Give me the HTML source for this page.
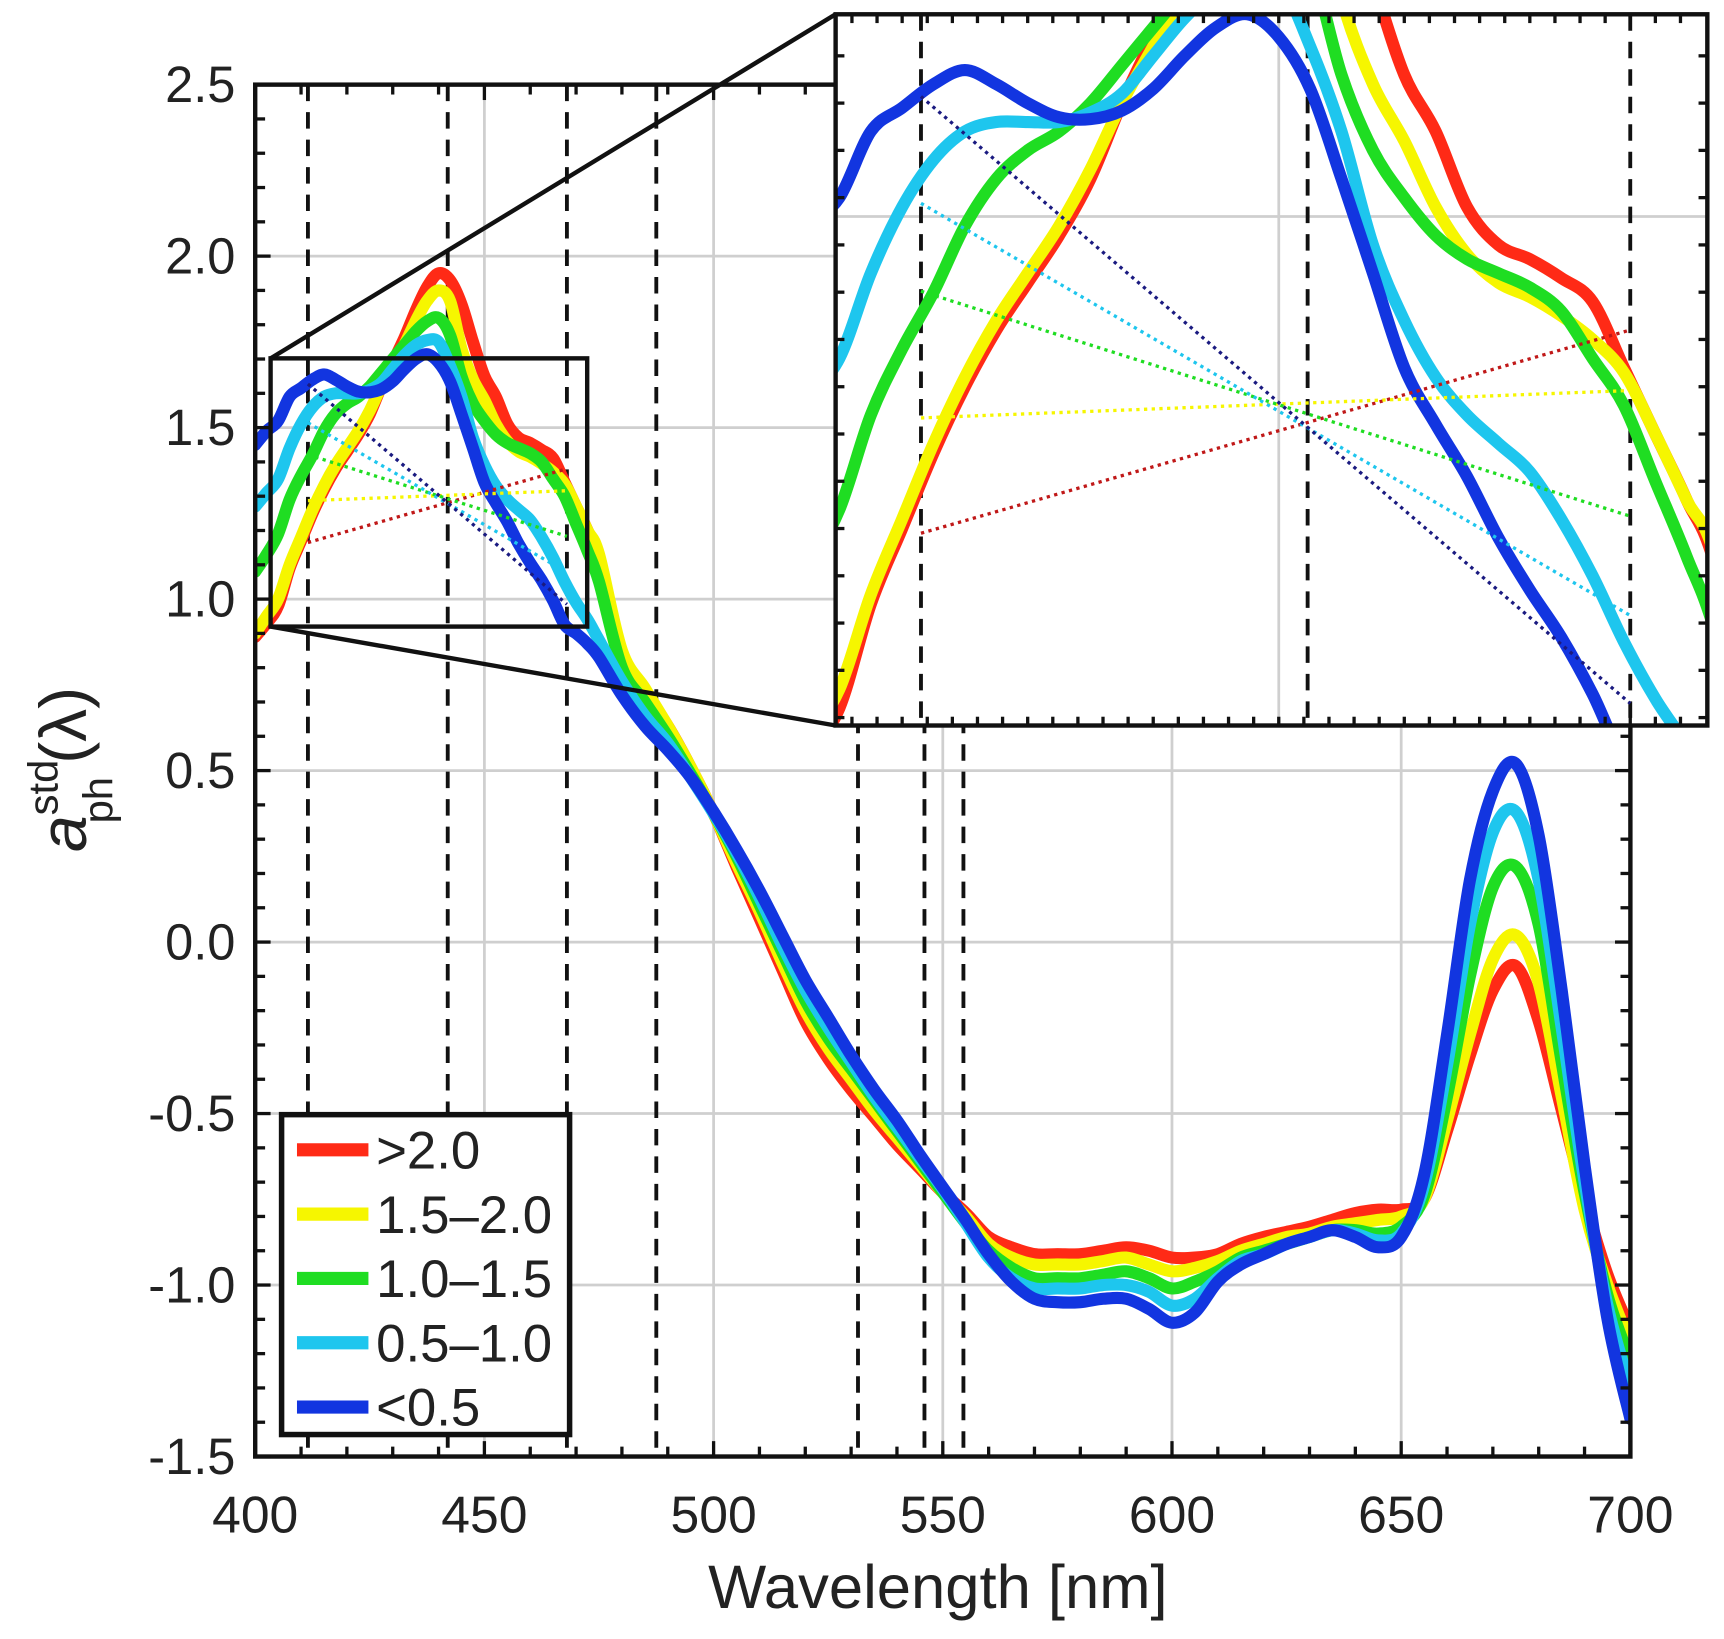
<!DOCTYPE html>
<html><head><meta charset="utf-8"><style>
html,body{margin:0;padding:0;background:#fff;overflow:hidden;width:1724px;height:1639px}
svg{display:block}
text{font-family:"Liberation Sans",sans-serif;fill:#222}
</style></head><body>
<svg id="chart" width="1724" height="1639" viewBox="0 0 1568 1491" xmlns="http://www.w3.org/2000/svg">
<defs>
<clipPath id="mainClip"><rect x="232" y="77" width="1251" height="1248"/></clipPath>
<clipPath id="insetClip"><rect x="760" y="13" width="793" height="647"/></clipPath>
</defs>
<g id="mainGrid"></g>
<g id="mainDashed"></g>
<g id="mainSeries" clip-path="url(#mainClip)"></g>
<rect x="232" y="77" width="1251" height="1248" fill="none" stroke="#111" stroke-width="4"/>
<g id="mainTicks"></g>
<g id="yLabels"></g>
<g id="xLabels"></g>
<text x="853" y="1463" font-size="56" text-anchor="middle">Wavelength [nm]</text>
<text transform="translate(78,700) rotate(-90)" font-size="60" text-anchor="middle"><tspan font-style="italic">a</tspan><tspan font-size="38" dy="-26">std</tspan><tspan font-size="38" dx="-58" dy="50">ph</tspan><tspan dx="12" dy="-24">(λ)</tspan></text>
<rect x="246" y="326" width="288" height="244" fill="none" stroke="#111" stroke-width="4"/>
<line x1="246" y1="326" x2="760" y2="13" stroke="#111" stroke-width="4"/>
<line x1="246" y1="570" x2="760" y2="660" stroke="#111" stroke-width="4"/>
<rect x="760" y="13" width="793" height="647" fill="#fff"/>
<g id="insetGrid"></g>
<g id="insetSeries" clip-path="url(#insetClip)"></g>
<rect x="760" y="13" width="793" height="647" fill="none" stroke="#111" stroke-width="4"/>
<g id="insetTicks"></g>
<g id="legend"></g>
</svg>
<script>
const wavelengths=[400,402.5,405,407.5,410,412.5,415,417.5,420,422.5,425,427.5,430,432.5,435,437.5,440,442.5,445,447.5,450,452.5,455,457.5,460,462.5,465,467.5,470,472.5,475,480,485,490,495,500,505,510,515,520,525,530,535,540,545,550,555,560,565,570,575,580,585,590,595,600,605,610,615,620,625,630,635,640,645,650,655,660,665,670,675,680,685,690,695,700];
const seriesNames=[">2.0","1.5–2.0","1.0–1.5","0.5–1.0","<0.5"];
const redVals=[0.89,0.93,0.98,1.09,1.17,1.25,1.32,1.38,1.43,1.48,1.54,1.62,1.69,1.76,1.84,1.91,1.95,1.93,1.86,1.75,1.65,1.59,1.51,1.47,1.455,1.435,1.41,1.34,1.27,1.20,1.12,0.84,0.73,0.63,0.51,0.375,0.22,0.07,-0.08,-0.23,-0.34,-0.43,-0.51,-0.59,-0.66,-0.73,-0.79,-0.86,-0.89,-0.91,-0.91,-0.91,-0.90,-0.89,-0.90,-0.92,-0.92,-0.91,-0.88,-0.86,-0.845,-0.83,-0.81,-0.79,-0.78,-0.78,-0.75,-0.55,-0.33,-0.14,-0.07,-0.23,-0.49,-0.75,-0.97,-1.13];
const yellowVals=[0.90,0.95,1.00,1.10,1.18,1.26,1.33,1.39,1.44,1.49,1.55,1.62,1.68,1.74,1.81,1.87,1.90,1.87,1.73,1.64,1.58,1.51,1.46,1.43,1.415,1.395,1.37,1.335,1.27,1.20,1.13,0.85,0.74,0.63,0.51,0.375,0.23,0.09,-0.06,-0.20,-0.31,-0.40,-0.49,-0.57,-0.65,-0.73,-0.80,-0.88,-0.92,-0.94,-0.94,-0.94,-0.93,-0.92,-0.94,-0.96,-0.95,-0.93,-0.90,-0.88,-0.86,-0.85,-0.83,-0.82,-0.81,-0.80,-0.75,-0.52,-0.27,-0.05,0.02,-0.12,-0.45,-0.78,-1.00,-1.17];
const greenVals=[1.08,1.13,1.19,1.29,1.36,1.42,1.49,1.54,1.57,1.59,1.62,1.66,1.70,1.74,1.78,1.81,1.82,1.77,1.65,1.57,1.52,1.48,1.455,1.44,1.425,1.40,1.35,1.30,1.22,1.14,1.05,0.80,0.70,0.60,0.49,0.375,0.25,0.11,-0.03,-0.17,-0.28,-0.37,-0.46,-0.55,-0.64,-0.73,-0.82,-0.90,-0.95,-0.98,-0.98,-0.98,-0.97,-0.96,-0.98,-1.01,-0.99,-0.96,-0.92,-0.90,-0.88,-0.86,-0.84,-0.84,-0.85,-0.83,-0.74,-0.45,-0.10,0.16,0.22,0.05,-0.35,-0.73,-1.03,-1.22];
const cyanVals=[1.27,1.31,1.35,1.44,1.51,1.56,1.59,1.60,1.60,1.60,1.61,1.63,1.67,1.71,1.74,1.755,1.75,1.68,1.59,1.47,1.39,1.33,1.29,1.26,1.23,1.18,1.12,1.05,0.99,0.94,0.88,0.76,0.66,0.58,0.48,0.375,0.26,0.13,-0.01,-0.14,-0.25,-0.35,-0.45,-0.54,-0.63,-0.72,-0.82,-0.92,-0.98,-1.01,-1.01,-1.01,-1.00,-1.00,-1.02,-1.06,-1.04,-0.98,-0.93,-0.91,-0.88,-0.86,-0.84,-0.85,-0.87,-0.85,-0.71,-0.36,0.05,0.32,0.38,0.18,-0.25,-0.70,-1.06,-1.30];
const blueVals=[1.45,1.49,1.52,1.59,1.615,1.64,1.655,1.64,1.62,1.605,1.603,1.612,1.635,1.67,1.70,1.714,1.69,1.635,1.54,1.44,1.34,1.28,1.225,1.16,1.105,1.055,0.995,0.925,0.90,0.87,0.83,0.72,0.63,0.56,0.48,0.38,0.27,0.15,0.02,-0.11,-0.22,-0.33,-0.43,-0.52,-0.62,-0.715,-0.81,-0.91,-0.99,-1.04,-1.05,-1.05,-1.04,-1.04,-1.07,-1.11,-1.08,-0.99,-0.94,-0.91,-0.88,-0.86,-0.84,-0.86,-0.89,-0.86,-0.68,-0.27,0.18,0.44,0.52,0.31,-0.14,-0.65,-1.10,-1.39];
const baselineStart=[1.165,1.287,1.421,1.514,1.627];
const baselineEnd=[1.380,1.316,1.183,1.078,0.985];
const baselineWl=[411.5,468];
const dashedMain=[411.5,442,468,487.5,531.5,546,554.5];
const dashedInset=[411.5,442.3,468];
const xTicks=[400,450,500,550,600,650,700];
const yTicks=[-1.5,-1.0,-0.5,0.0,0.5,1.0,1.5,2.0,2.5];
const colors=["#ff2a16","#f6f600","#1fdd22","#1ec6ee","#1235e0"];
const seriesVals=[redVals,yellowVals,greenVals,cyanVals,blueVals];

const NS="http://www.w3.org/2000/svg";
const X=nm=>232+(nm-400)*(1251/300);
const Y=v=>1325-(v+1.5)*312;
const IX=nm=>760+(nm-404.7)*11.42;
const IY=v=>197-(v-1.5)*860;
function mk(tag,attrs,parent){const e=document.createElementNS(NS,tag);for(const k in attrs)e.setAttribute(k,attrs[k]);parent.appendChild(e);return e;}
function smooth(pts){let d="M"+pts[0][0].toFixed(1)+","+pts[0][1].toFixed(1);
 for(let i=0;i<pts.length-1;i++){const p0=pts[Math.max(0,i-1)],p1=pts[i],p2=pts[i+1],p3=pts[Math.min(pts.length-1,i+2)];
 const c1=[p1[0]+(p2[0]-p0[0])/6,p1[1]+(p2[1]-p0[1])/6],c2=[p2[0]-(p3[0]-p1[0])/6,p2[1]-(p3[1]-p1[1])/6];
 d+="C"+c1[0].toFixed(1)+","+c1[1].toFixed(1)+" "+c2[0].toFixed(1)+","+c2[1].toFixed(1)+" "+p2[0].toFixed(1)+","+p2[1].toFixed(1);}
 return d;}

const mg=document.getElementById('mainGrid');
xTicks.forEach(t=>{if(t>400&&t<700){const l=mk('line',{x1:X(t),x2:X(t),y1:77,y2:1325,stroke:'#cfcfcf','stroke-width':2.5},mg);

}});
yTicks.forEach(t=>{const l=mk('line',{x1:232,x2:1483,y1:Y(t),y2:Y(t),stroke:'#cfcfcf','stroke-width':2.5},mg);

});
const md=document.getElementById('mainDashed');
dashedMain.forEach(w=>{const l=mk('line',{x1:X(w),x2:X(w),y1:77,y2:1325,stroke:'#111','stroke-width':3.5,'stroke-dasharray':'15 10'},md);

});

function drawSeries(g,fx,fy,w,prefix){
 seriesVals.forEach((vals,i)=>{
  const pts=wavelengths.map((wl,j)=>[fx(wl),fy(vals[j])]);
  const p=mk('path',{d:smooth(pts),fill:'none',stroke:colors[i],'stroke-width':w,'stroke-linejoin':'round','stroke-linecap':'round'},g);
  
  
 });
 seriesVals.forEach((vals,i)=>{
  const l=mk('line',{x1:fx(baselineWl[0]),y1:fy(baselineStart[i]),x2:fx(baselineWl[1]),y2:fy(baselineEnd[i]),stroke:i===4?'#1a1a80':(i===0?'#c01818':colors[i]),'stroke-width':3,'stroke-dasharray':'3 4'},g);
  
  
 });
}
drawSeries(document.getElementById('mainSeries'),X,Y,11,'main');

const mt=document.getElementById('mainTicks');
for(let t=400;t<=700;t+=10){const L=(t%50===0)?14:9;
 mk('line',{x1:X(t),x2:X(t),y1:1325,y2:1325-L,stroke:'#111','stroke-width':3},mt);
 mk('line',{x1:X(t),x2:X(t),y1:77,y2:77+L,stroke:'#111','stroke-width':3},mt);}
for(let k=-15;k<=25;k++){const v=k/10,L=(k%5===0)?14:9;
 mk('line',{x1:232,x2:232+L,y1:Y(v),y2:Y(v),stroke:'#111','stroke-width':3},mt);
 mk('line',{x1:1483,x2:1483-L,y1:Y(v),y2:Y(v),stroke:'#111','stroke-width':3},mt);}
const yl=document.getElementById('yLabels');
yTicks.forEach(t=>{const e=mk('text',{x:214,y:Y(t)+16,'font-size':46,'text-anchor':'end'},yl);e.textContent=t.toFixed(1);

});
const xl=document.getElementById('xLabels');
xTicks.forEach(t=>{const e=mk('text',{x:X(t),y:1394,'font-size':47,'text-anchor':'middle'},xl);e.textContent=t;

});

const ig=document.getElementById('insetGrid');
mk('line',{x1:IX(440),x2:IX(440),y1:13,y2:660,stroke:'#cfcfcf','stroke-width':2.5},ig);
mk('line',{x1:760,x2:1553,y1:IY(1.5),y2:IY(1.5),stroke:'#cfcfcf','stroke-width':2.5},ig);
dashedInset.forEach(w=>{const l=mk('line',{x1:IX(w),x2:IX(w),y1:13,y2:660,stroke:'#111','stroke-width':3.5,'stroke-dasharray':'15 10'},ig);

});
drawSeries(document.getElementById('insetSeries'),IX,IY,11,'inset');
const it=document.getElementById('insetTicks');
for(let t=406;t<=474;t+=2){if(IX(t)>762&&IX(t)<1551){
 mk('line',{x1:IX(t),x2:IX(t),y1:660,y2:652,stroke:'#111','stroke-width':3},it);
 mk('line',{x1:IX(t),x2:IX(t),y1:13,y2:21,stroke:'#111','stroke-width':3},it);}}
for(let k=97;k<=171;k+=5){const v=k/100;if(IY(v)>15&&IY(v)<658){
 mk('line',{x1:760,x2:768,y1:IY(v),y2:IY(v),stroke:'#111','stroke-width':3},it);
 mk('line',{x1:1553,x2:1545,y1:IY(v),y2:IY(v),stroke:'#111','stroke-width':3},it);}}

const lg=document.getElementById('legend');
mk('rect',{x:256,y:1014,width:262,height:291,fill:'#fff',stroke:'#111','stroke-width':5},lg);
seriesNames.forEach((n,i)=>{const y=1046+i*58.5;
 const l=mk('line',{x1:270,x2:335,y1:y,y2:y,stroke:colors[i],'stroke-width':12},lg);
 
 
 const t=mk('text',{x:342,y:y+17,'font-size':48},lg);t.textContent=n;
 
 });
</script>
</body></html>
